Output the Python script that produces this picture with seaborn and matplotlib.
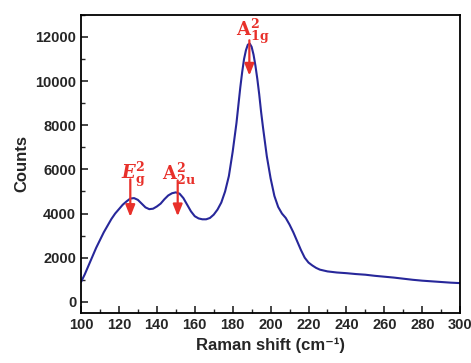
import numpy as np
import pandas as pd
import seaborn as sns
import matplotlib.pyplot as plt
from matplotlib.ticker import MultipleLocator

sns.set_style("ticks")
plt.rcParams['font.family'] = ['Liberation Sans', 'DejaVu Sans']
plt.rcParams['mathtext.fontset'] = 'dejavuserif'

# Raman spectrum
shift = [100, 102, 104, 106, 108, 110, 112, 114, 116, 118, 120, 122, 124, 126, 128,
         130, 132, 134, 136, 138, 140, 142, 144, 146, 148, 150, 152, 154, 156, 158,
         160, 162, 164, 166, 168, 170, 172, 174, 176, 178, 180, 182, 184, 185, 186,
         187, 188, 189, 190, 191, 192, 193, 194, 195, 196, 198, 200, 202, 204, 206,
         208, 210, 212, 214, 216, 218, 220, 222, 224, 226, 228, 230, 235, 240, 245,
         250, 255, 260, 265, 270, 275, 280, 285, 290, 295, 300]
counts = [900, 1250, 1650, 2050, 2450, 2800, 3150, 3450, 3750, 4000, 4200, 4400, 4550, 4680, 4700,
          4620, 4450, 4280, 4200, 4220, 4320, 4450, 4650, 4820, 4920, 4960, 4900, 4700, 4400, 4100,
          3880, 3780, 3740, 3740, 3800, 3950, 4180, 4500, 5000, 5700, 6800, 8100, 9700, 10400, 11000,
          11400, 11650, 11700, 11550, 11200, 10700, 10100, 9400, 8600, 7900, 6600, 5600, 4800, 4300, 4000,
          3800, 3500, 3150, 2750, 2350, 2000, 1780, 1650, 1540, 1460, 1420, 1380, 1330, 1300, 1260,
          1230, 1180, 1140, 1100, 1050, 1000, 960, 930, 900, 870, 850]

# peak annotations: label, label centre, arrow x, arrow top, arrow tip
peak_labels = [r'$\mathbfit{E}_{\mathbf{g}}^{\mathbf{2}}$',
               r'$\mathbf{A}_{\mathbf{2u}}^{\mathbf{2}}$',
               r'$\mathbf{A}_{\mathbf{1g}}^{\mathbf{2}}$']
label_x = [127.8, 151.5, 190.4]
label_y = [5800, 5820, 12250]
peak_x = [126, 151, 188.8]
arrow_top = [5550, 5500, 11850]
arrow_tip = [3850, 3880, 10250]

df = pd.DataFrame({"shift": shift, "counts": counts})

fig = plt.figure(figsize=(4.71, 3.63), dpi=100)
ax = fig.add_axes([0.172, 0.138, 0.805, 0.821])
sns.lineplot(data=df, x="shift", y="counts", color="#27279a", lw=1.5, ax=ax)

red = "#e8302a"
for x, top, tip in zip(peak_x, arrow_top, arrow_tip):
    ax.annotate("", xy=(x, tip), xytext=(x, top),
                arrowprops=dict(arrowstyle="-|>,head_length=0.7,head_width=0.28",
                                color=red, lw=1.6, shrinkA=0, shrinkB=0))
for lab, lx, ly in zip(peak_labels, label_x, label_y):
    ax.text(lx, ly, lab, color=red, fontsize=13, ha="center", va="center")

ax.set_xlim(100, 300)
ax.set_ylim(-500, 13000)
ax.xaxis.set_major_locator(MultipleLocator(20))
ax.xaxis.set_minor_locator(MultipleLocator(10))
ax.yaxis.set_major_locator(MultipleLocator(2000))
ax.yaxis.set_minor_locator(MultipleLocator(1000))
ax.tick_params(which="major", direction="in", length=5, width=1.2, labelsize=10.5)
ax.tick_params(which="minor", direction="in", length=3, width=1.0)
for lbl in ax.get_xticklabels() + ax.get_yticklabels():
    lbl.set_fontweight("bold")
for sp in ax.spines.values():
    sp.set_visible(True)
    sp.set_linewidth(1.3)
    sp.set_color("black")

ax.set_xlabel("Raman shift (cm\u207b\u00b9)", fontsize=12, fontweight="bold")
ax.set_ylabel("Counts", fontsize=12, fontweight="bold")

fig.savefig("out.png", dpi=100)
